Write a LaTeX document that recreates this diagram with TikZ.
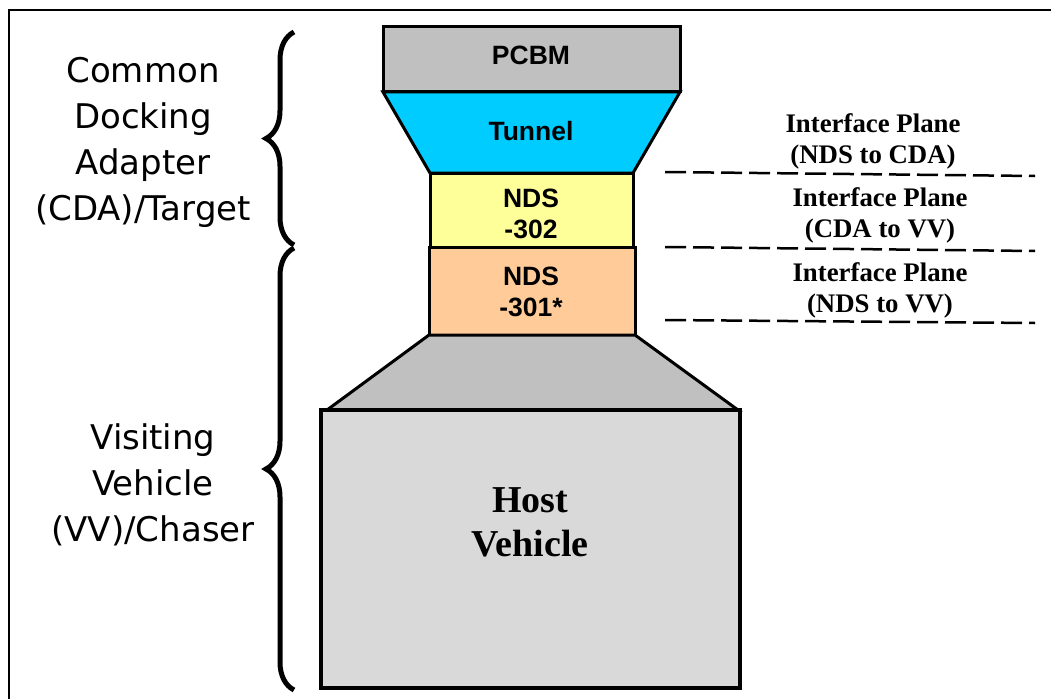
\documentclass[tikz,border=0pt]{standalone}
\usepackage{fontspec}
\setmainfont{Liberation Serif}
\newfontfamily\lblfont{DejaVu Sans}
\newfontfamily\boxfont{Liberation Sans}
\usetikzlibrary{decorations.pathreplacing}
\definecolor{partgray}{HTML}{C0C0C0}
\definecolor{tunnelcyan}{HTML}{00CCFF}
\definecolor{ndsyellow}{HTML}{FFFF99}
\definecolor{ndsorange}{HTML}{FFCC99}
\definecolor{hostgray}{HTML}{D9D9D9}
\begin{document}
\begin{tikzpicture}[x=1pt,y=-1pt,
  part/.style={draw=black,line width=3pt,line join=miter},
  boxtext/.style={align=center,inner sep=0pt,font=\boxfont\bfseries\fontsize{26.5}{31}\selectfont},
  sidetext/.style={align=center,inner sep=0pt,font=\lblfont\fontsize{34}{46}\selectfont},
  planetext/.style={align=center,inner sep=0pt,font=\bfseries\fontsize{26.8}{31}\selectfont},
  planeline/.style={line width=2.5pt,dash pattern=on 21pt off 7pt},
  bracestyle/.style={line width=5pt,decorate,decoration={brace,amplitude=28pt}}]
\useasboundingbox (0,0) rectangle (1051,698);
\draw[line width=2pt] (9,10) rectangle (1080,730);

% stack
\filldraw[part,fill=partgray] (383,27) rectangle (680,92);
\filldraw[part,fill=tunnelcyan] (383,92) -- (680,92) -- (633,173) -- (430,173) -- cycle;
\filldraw[part,fill=ndsyellow] (430,173) rectangle (633,247);
\filldraw[part,fill=ndsorange] (429,247) rectangle (635,335);
\filldraw[part,fill=partgray] (429,335) -- (635,335) -- (738,410) -- (327,410) -- cycle;
\filldraw[part,fill=hostgray,line width=3.5pt] (321,410) rectangle (740,688);

\node[boxtext] (pcbm) at (531,55) {PCBM};
\node[boxtext] (tunnel) at (531,131) {Tunnel};
\node[boxtext] (nds302) at (531,214) {NDS\\-302};
\node[boxtext] (nds301) at (531,292) {NDS\\-301*};
\node[align=center,inner sep=0pt,font=\bfseries\fontsize{38}{44}\selectfont] (host) at (530,522) {Host\\Vehicle};

% interface planes
\coordinate (p1a) at (665,172); \coordinate (p1b) at (1035,176);
\coordinate (p2a) at (665,247); \coordinate (p2b) at (1035,251);
\coordinate (p3a) at (665,320); \coordinate (p3b) at (1035,323);
\draw[planeline] (p1a) -- (p1b);
\draw[planeline] (p2a) -- (p2b);
\draw[planeline] (p3a) -- (p3b);
\node[planetext] (ip1) at (873,141) {Interface Plane\\(NDS to CDA)};
\node[planetext] (ip2) at (880,215) {Interface Plane\\(CDA to VV)};
\node[planetext] (ip3) at (880,290) {Interface Plane\\(NDS to VV)};

% braces and side labels
\coordinate (b1top) at (294,32); \coordinate (b1bot) at (294,245);
\coordinate (b2top) at (294,248); \coordinate (b2bot) at (294,690);
\draw[bracestyle] (b1bot) -- (b1top);
\draw[bracestyle] (b2bot) -- (b2top);
\node[sidetext] (cda) at (143,142) {Common\\Docking\\Adapter\\(CDA)/Target};
\node[sidetext] (vv) at (153,485) {Visiting\\Vehicle\\(VV)/Chaser};
\end{tikzpicture}
\end{document}
